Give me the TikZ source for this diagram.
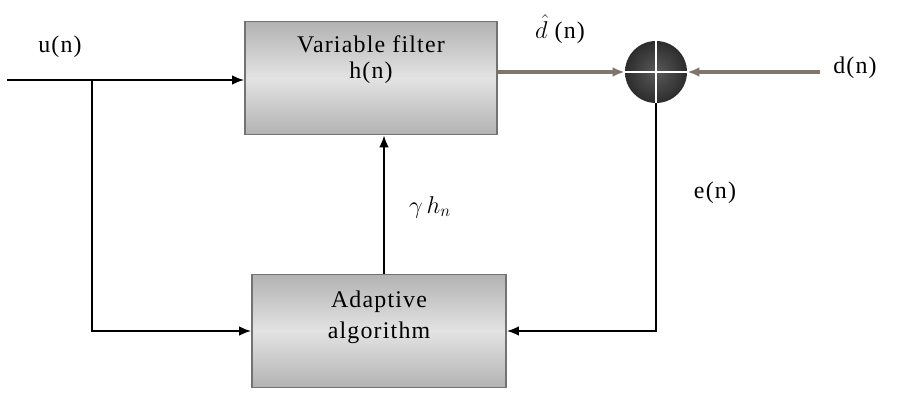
\documentclass[tikz,border=0pt]{standalone}
\usepackage{fontspec}
\setmainfont{Liberation Serif}[LetterSpace=5]
\usetikzlibrary{arrows.meta, positioning, shadings}
\colorlet{ADFedge}{black!55}
\definecolor{ADFline}{RGB}{128,116,108}

\begin{document}
\begin{tikzpicture}[font=\fontsize{17}{22}\selectfont,
    blk/.style={draw=ADFedge, line width=1.2pt, top color=gray!60, bottom color=gray!60,
      middle color=gray!22, minimum width=6.3cm, minimum height=2.825cm, align=center},
    sig/.style={->, line width=1.4pt},
    >={Latex[length=3mm,width=2.4mm]}]
  \useasboundingbox (0,0) rectangle (22.775,10.275);
  \node[blk, text depth=1.05cm, font=\fontsize{17}{19}\selectfont] (filt) at (9.275,8.325) {Variable filter\\h(n)};
  \node[blk, minimum width=6.35cm, text depth=0.8cm] (adapt) at (9.475,2) {Adaptive\\algorithm};
  \node[circle, minimum size=1.55cm, shading=radial, inner color=gray!70!black,
    outer color=gray!35!black] (sum) at (16.4,8.475) {};
  \draw[white, thick] (sum.north) -- (sum.south) (sum.west) -- (sum.east);
  \coordinate (uin) at (0.175,8.275);
  \coordinate (br) at (2.3,8.275);
  \coordinate (gam) at (9.6,0);
  \coordinate (din) at (20.5,8.475);
  \draw[sig] (uin) -- (uin -| filt.west);
  \draw[sig] (br) |- (adapt.west);
  \draw[sig] (gam |- adapt.north) -- (gam |- filt.south);
  \draw[->, ADFline, line width=2.4pt] (filt.east |- sum) -- (sum.west);
  \draw[->, ADFline, line width=2.4pt] (din) -- (sum.east);
  \draw[sig] (sum.south) |- (adapt.east);
  \node (ulab) at (1.5,9.1) {u(n)};
  \node (dhat) at (14.0,9.55) {$\hat{d}$\ (n)};
  \node (dlab) at (21.375,8.575) {d(n)};
  \node (elab) at (17.875,5.45) {e(n)};
  \node (glab) at (10.75,5.1) {$\gamma\, h_n$};
\end{tikzpicture}
\end{document}
